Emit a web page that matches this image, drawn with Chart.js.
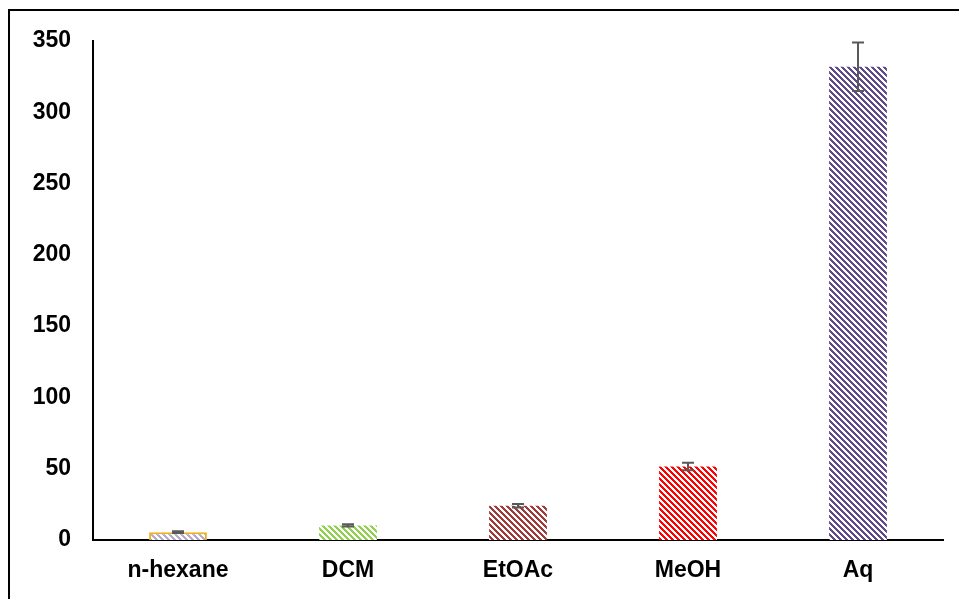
<!DOCTYPE html>
<html lang="en">
<head>
  <meta charset="UTF-8">
  <title>Extracts</title>
  <script src="https://cdn.jsdelivr.net/npm/chart.js"></script>
  <style>
    body { margin: 0; background: #fff; }
    .frame { position: absolute; left: 8px; top: 9px; width: 980px; height: 620px; border-left: 2px solid #000; border-top: 2px solid #000; }
    .wrap { position: absolute; left: 0; top: 0; width: 959px; height: 599px; }
  </style>
</head>
<body>
  <div class="frame"></div>
  <div class="wrap"><canvas id="grafico" width="959" height="599"></canvas></div>

  <script>
  const categorias = ['n-hexane', 'DCM', 'EtOAc', 'MeOH', 'Aq'];
  const valores = [5.5, 10.2, 24, 51.5, 332];
  const erros = [0.6, 0.8, 1.2, 2.6, 17];
  const ticksY = [0, 50, 100, 150, 200, 250, 300, 350];
  const coresListra = ['#b4acc8', '#92d050', '#a33a3a', '#ff0000', '#5f4b8b'];
  const coresBorda = ['#f0b020', '#92d050', '#a33a3a', '#ff0000', '#5f4b8b'];

  // listras diagonais nítidas, pixel a pixel
  function listras(cor) {
    const s = 6;
    const c = document.createElement('canvas');
    c.width = s; c.height = s;
    const g = c.getContext('2d');
    g.fillStyle = '#fff';
    g.fillRect(0, 0, s, s);
    g.fillStyle = cor;
    for (let y = 0; y < s; y++) {
      for (let x = 0; x < s; x++) {
        if (((x - y) % s + s) % s < 3) g.fillRect(x, y, 1, 1);
      }
    }
    return g.createPattern(c, 'repeat');
  }

  // barras de erro desenhadas pela escala
  const barrasErro = {
    id: 'barrasErro',
    afterDatasetsDraw(chart) {
      const ctx = chart.ctx;
      const meta = chart.getDatasetMeta(0);
      const y = chart.scales.y;
      ctx.save();
      ctx.strokeStyle = '#595959';
      ctx.lineWidth = 2;
      meta.data.forEach((bar, i) => {
        const yt = y.getPixelForValue(valores[i] + erros[i]);
        const yb = y.getPixelForValue(valores[i] - erros[i]);
        ctx.beginPath();
        ctx.moveTo(bar.x, yt); ctx.lineTo(bar.x, yb);
        ctx.moveTo(bar.x - 6, yt); ctx.lineTo(bar.x + 6, yt);
        ctx.moveTo(bar.x - 6, yb); ctx.lineTo(bar.x + 6, yb);
        ctx.stroke();
      });
      ctx.restore();
    }
  };

  new Chart(document.getElementById('grafico').getContext('2d'), {
    type: 'bar',
    data: {
      labels: categorias,
      datasets: [{
        data: valores,
        backgroundColor: coresListra.map(listras),
        borderColor: coresBorda,
        borderWidth: [2, 0, 0, 0, 0],
        barPercentage: 0.34,
        categoryPercentage: 1
      }]
    },
    options: {
      responsive: false,
      animation: false,
      layout: { padding: { top: 41, right: 16, left: 0, bottom: 0 } },
      scales: {
        x: {
          grid: { display: false, drawTicks: false },
          border: { color: '#000', width: 2 },
          ticks: { color: '#000', padding: 17, font: { family: 'Liberation Sans', size: 23, weight: 'bold' } },
          afterFit(s) { s.height = 59; }
        },
        y: {
          min: 0, max: 350,
          afterBuildTicks(s) { s.ticks = ticksY.map(v => ({ value: v })); },
          grid: { display: false, drawTicks: false },
          border: { color: '#000', width: 2 },
          ticks: { color: '#000', padding: 22, font: { family: 'Liberation Sans', size: 23, weight: 'bold' } },
          afterFit(s) { s.width = 93; }
        }
      },
      plugins: {
        legend: { display: false },
        tooltip: { enabled: false }
      }
    },
    plugins: [barrasErro]
  });
  </script>
</body>
</html>
